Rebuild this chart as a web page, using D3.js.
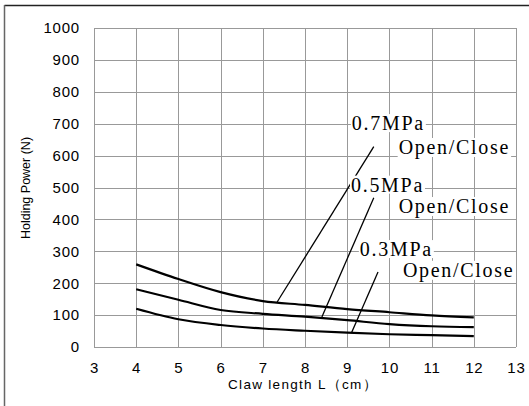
<!DOCTYPE html>
<html>
<head>
<meta charset="utf-8">
<script src="https://cdn.jsdelivr.net/npm/d3@7"></script>
<style>
body { margin: 0; background: #fff; }
.tick text { font-family: "Liberation Sans", Arial, sans-serif; }
</style>
</head>
<body>
<div id="chart"></div>
<script>
var width = 529;
var height = 406;

// claw length (cm)
var lengths = [4, 5, 6, 7, 8, 9, 10, 11, 12];
// holding power (N)
var p07 = [259, 213, 172, 144, 132, 119, 109, 99, 93];
var p05 = [181, 148, 116, 104, 95, 84, 72, 65, 62];
var p03 = [120, 87, 69, 58, 51, 45, 40, 37, 34];

var xTicks = [3, 4, 5, 6, 7, 8, 9, 10, 11, 12, 13];
var yTicks = [0, 100, 200, 300, 400, 500, 600, 700, 800, 900, 1000];

// label text, label anchor (x, y), leader line from -> to (data units)
var labels = [
    { name: "0.7MPa", sub: "Open/Close", lx: 9.11, ly: 680, sx: 10.22, sy: 605, from: [9.63, 628], to: [7.34, 141] },
    { name: "0.5MPa", sub: "Open/Close", lx: 9.09, ly: 487, sx: 10.22, sy: 420, from: [9.63, 468], to: [8.4, 94] },
    { name: "0.3MPa", sub: "Open/Close", lx: 9.3, ly: 285, sx: 10.32, sy: 220, from: [9.73, 235], to: [9.1, 44] }
];

var margin = { left: 94, top: 28, right: 13, bottom: 59 };
var w = width - margin.left - margin.right;
var h = height - margin.top - margin.bottom;

var svg = d3.select("#chart").append("svg")
    .attr("width", width)
    .attr("height", height);

// frame
svg.append("line").attr("x1", 4.5).attr("x2", width).attr("y1", 5.5).attr("y2", 5.5)
    .attr("stroke", "#222").attr("stroke-width", 1.5);
svg.append("line").attr("x1", 4.5).attr("x2", 4.5).attr("y1", 5).attr("y2", height)
    .attr("stroke", "#666").attr("stroke-width", 1.5);

var g = svg.append("g")
    .attr("transform", "translate(" + margin.left + "," + margin.top + ")");

var x = d3.scaleLinear().domain([3, 13]).range([0, w]);
var y = d3.scaleLinear().domain([0, 1000]).range([h, 0]);

// grid
g.append("g").selectAll("line")
    .data(xTicks).enter().append("line")
    .attr("x1", function (d) { return Math.round(x(d)) + 0.5; })
    .attr("x2", function (d) { return Math.round(x(d)) + 0.5; })
    .attr("y1", 0).attr("y2", h)
    .attr("stroke", "#999").attr("stroke-width", 1);
g.append("g").selectAll("line")
    .data(yTicks).enter().append("line")
    .attr("y1", function (d) { return Math.round(y(d)) + 0.5; })
    .attr("y2", function (d) { return Math.round(y(d)) + 0.5; })
    .attr("x1", 0).attr("x2", w)
    .attr("stroke", "#999").attr("stroke-width", 1);

// axes (labels only)
var xAxis = d3.axisBottom(x).tickValues(xTicks).tickSize(0).tickPadding(15).tickFormat(d3.format("d"));
g.append("g").attr("transform", "translate(0," + h + ")").call(xAxis)
    .call(function (a) { a.select(".domain").remove(); })
    .selectAll("text").attr("font-size", 15).attr("fill", "#000").attr("letter-spacing", 0.8);

var yAxis = d3.axisLeft(y).tickValues(yTicks).tickSize(0).tickPadding(14).tickFormat(d3.format("d"));
g.append("g").call(yAxis)
    .call(function (a) { a.select(".domain").remove(); })
    .selectAll("text").attr("font-size", 15).attr("fill", "#000").attr("letter-spacing", 0.8);

// curves
var line = d3.line()
    .x(function (d) { return x(d[0]); })
    .y(function (d) { return y(d[1]); })
    .curve(d3.curveMonotoneX);

[p07, p05, p03].forEach(function (s) {
    g.append("path")
        .datum(lengths.map(function (l, i) { return [l, s[i]]; }))
        .attr("d", line)
        .attr("fill", "none")
        .attr("stroke", "#000")
        .attr("stroke-width", 2.2);
});

function addLabel(txt, px, py) {
    var t = g.append("text")
        .attr("x", px).attr("y", py)
        .attr("font-family", "Liberation Serif, serif")
        .attr("font-size", 20)
        .attr("letter-spacing", 1.7)
        .text(txt);
    var b = t.node().getBBox();
    g.append("rect")
        .attr("x", b.x - 1).attr("y", b.y + 2).attr("width", b.width + 2).attr("height", b.height - 4)
        .attr("fill", "#fff");
    t.raise();
}

// labels
labels.forEach(function (d) {
    addLabel(d.name, x(d.lx), y(d.ly));
    addLabel(d.sub, x(d.sx), y(d.sy));
    g.append("line")
        .attr("x1", x(d.from[0])).attr("y1", y(d.from[1]))
        .attr("x2", x(d.to[0])).attr("y2", y(d.to[1]))
        .attr("stroke", "#000").attr("stroke-width", 1.3);
});

// axis titles
svg.append("text")
    .attr("x", 303).attr("y", 389)
    .attr("text-anchor", "middle")
    .attr("font-family", "Liberation Sans, Arial, sans-serif")
    .attr("font-size", 13.5)
    .attr("letter-spacing", 1.3)
    .text("Claw length L（cm）");

svg.append("text")
    .attr("transform", "translate(30,188) rotate(-90)")
    .attr("text-anchor", "middle")
    .attr("font-family", "Liberation Sans, Arial, sans-serif")
    .attr("font-size", 12.5)
    .text("Holding Power (N)");
</script>
</body>
</html>
